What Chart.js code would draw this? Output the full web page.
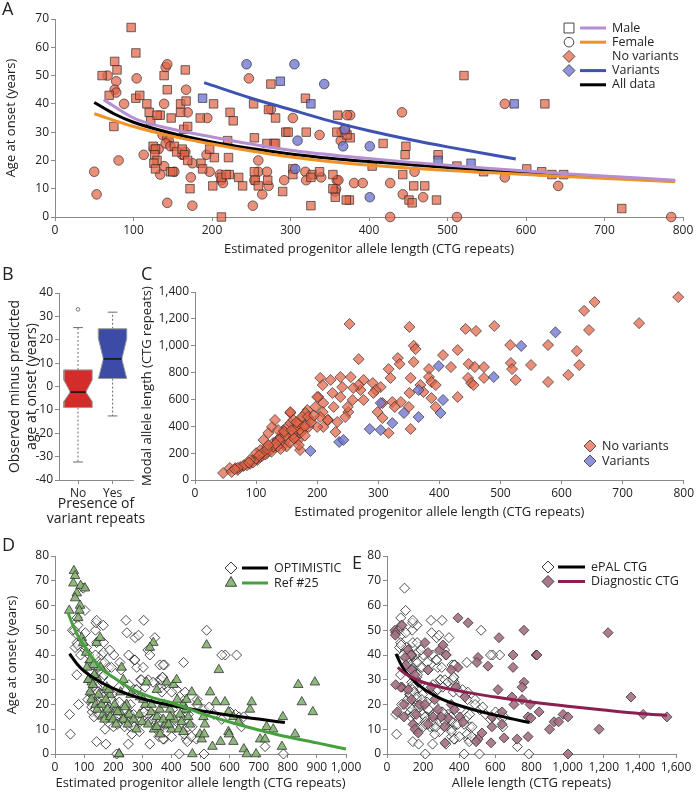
<!DOCTYPE html>
<html lang="en">
<head>
<meta charset="UTF-8">
<title>Age at onset and CTG repeat length</title>
<script src="https://cdn.jsdelivr.net/npm/chart.js"></script>
<style>
  body { margin: 0; background: #fff; font-family: 'Open Sans', sans-serif; }
  #fig { position: relative; width: 696px; height: 793px; overflow: hidden; }
  canvas { position: absolute; }
  .tag { position: absolute; font-size: 18px; line-height: 18px; color: #222; }
</style>
</head>
<body>
<div id="fig">
  <canvas id="chartA" width="696" height="257" style="left:0;top:0"></canvas>
  <canvas id="chartC" width="559" height="240" style="left:137px;top:280px"></canvas>
  <canvas id="chartB" width="150" height="247" style="left:0;top:280px"></canvas>
  <canvas id="chartD" width="372" height="256" style="left:0;top:535px"></canvas>
  <canvas id="chartE" width="344" height="256" style="left:352px;top:535px"></canvas>
  <div class="tag" style="left:2px;top:-1px">A</div>
  <div class="tag" style="left:2px;top:264px">B</div>
  <div class="tag" style="left:141px;top:264px">C</div>
  <div class="tag" style="left:2px;top:535px">D</div>
  <div class="tag" style="left:352px;top:553px">E</div>
</div>
<script>
// ---- panel A : estimated progenitor allele length vs age at onset ----
const maleNoVar = [[97,67],[103,58],[76,55],[79,52],[60,50],[69,43],[75,32],[103,42],[108,43],[117,40],[120,37],[122,34],[134,36],[139,50],[143,45],[130,36],[148,35],[160,37],[160,40],[166,52],[167,41],[164,31],[169,32],[185,35],[202,40],[223,37],[227,34],
  [275,47],[253,40],[272,38],[281,35],[294,30],[297,30],[319,42],[320,30],[254,28],[270,26],[279,26],[303,17],[326,4],[328,15],[326,14],[337,16],[354,15],[360,36],[359,30],[357,7],[354,10],[375,6],[376,28],
  [125,25],[128,24],[127,22],[130,20],[126,19],[128,17],[147,16],[150,16],[152,25],[155,23],[162,24],[165,22],[169,20],[172,10],[186,19],[188,17],[197,24],[203,21],[201,11],[212,0],[220,27],[221,21],[222,15],[212,14],[218,15],[234,14],[239,11],[254,16],[255,13],[271,13],[259,11],[281,26],[303,15],[290,9],
  [372,29],[370,31],[371,6],[404,18],[418,26],[443,15],[446,22],[447,25],[451,6],[455,5],[457,11],[471,11],[486,6],[488,22],[512,18],[521,50],[546,16],[601,17],[620,16],[624,40],[633,15],[648,15],[722,3]];
const maleVar = [[188,42],[287,48],[326,40],[488,20],[530,19],[585,40]];
const femaleNoVar = [[67,50],[78,48],[76,45],[78,44],[88,40],[81,20],[104,49],[50,16],[53,8],[113,22],[126,24],[132,24],[139,40],[137,29],[143,28],[145,27],[141,26],[147,25],[139,18],[134,15],[143,5],[152,16],[162,22],[166,23],[169,37],[167,45],[175,19],[173,14],[175,4],[193,22],[197,16],[194,35],[210,15],[212,13],[214,12],[247,49],[252,4],[254,13],[259,16],[259,20],[264,8],[270,16],[272,11],[275,38],[303,35],[292,13],[337,29],[339,14],[358,10],[357,9],[359,13],[361,13],[364,27],[365,30],[376,36],[319,16],[320,13],[141,53],[143,54],
  [372,36],[381,12],[392,12],[427,0],[427,12],[442,37],[443,8],[458,16],[469,7],[512,0],[573,40],[573,14],[641,11],[785,0]];
const femaleVar = [[244,54],[305,54],[343,47],[309,27],[306,17],[367,25],[369,31],[401,25],[401,7]];

// fitted curves
const curveAll = [[50,40.5],[75,36.5],[100,33.5],[150,29.5],[200,26.5],[250,24.2],[300,22.3],[350,20.8],[400,19.6],[500,17.5],[600,15.7],[700,14.1],[790,12.7]];
const curveMale = [[62,41.5],[100,35],[150,31],[200,28.3],[250,25.8],[300,23.6],[372,21.4],[450,19.4],[550,17.2],[650,15.3],[790,13]];
const curveFemale = [[50,36.5],[100,32],[150,28.5],[200,25.8],[250,23.3],[300,21.2],[372,19],[450,17.3],[550,15.7],[650,14.3],[790,12.5]];
const curveVar = [[190,47.5],[250,42],[300,38],[350,34],[400,30.5],[450,27.5],[500,24.8],[587,20.5]];

// ---- panel B : observed minus predicted age at onset ----
const boxCats = ['No', 'Yes'];
const boxNo = [-32.3, -9, -2.4, 7.1, 25.2];     // min, q1, median, q3, max
const notchNo = [-6.4, 2.8];
const outliersNo = [33];
const boxYes = [-12.6, 3.4, 11.8, 24.7, 31.8];
const notchYes = [3.4, 20.4];

// ---- panel C : modal allele length vs estimated progenitor allele length ----
const modalNoVar = [[791,1362],[654,1325],[637,1260],[727,1168],[645,1117],[253,1162],[351,1140],[490,1147],[443,1125],[460,1110],[358,1000],[361,975],[516,1005],[578,1005],[625,961],[268,900],[430,968],[406,930],[332,908],[335,864],[317,826],[358,879],[383,826],[419,841],[448,864],[458,841],[473,841],[517,871],[519,826],[550,856],[611,782],[578,730],[629,856],[525,745],[473,760],[447,760],[452,722],[456,707],[430,618],[383,767],[387,730],[394,707],[369,707],[374,655],[387,610],[394,544],[353,380],[317,350],[353,760],[351,648],[350,544],[320,760],[323,581],[327,544],[337,581],[304,692],[307,573],[299,506],[307,462],[291,722],[296,670],[292,648],[276,745],[271,670],[276,596],[268,707],[255,767],[259,685],[258,596],[251,506],[238,767],[241,692],[238,618],[233,432],[246,469],[250,544],[222,745],[225,648],[227,544],[230,357],[218,447],[205,760],[209,707],[202,618],[210,573],[209,506],[217,447],[210,395],[200,618],[197,544],[205,469],[200,395],[184,521],[189,447],[186,395],
  [46,52],[57,89],[66,89],[74,97],[79,104],[94,149],[102,149],[107,171],[118,201],[123,223],[118,246],[128,276],[135,298],[140,320],[143,350],[145,372],[151,395],[156,424],[156,499],[161,447],[167,395],[159,350],[164,320],[169,298],[172,350],[177,395],[172,447],[181,499],[107,223],[112,298],[120,350],[126,395],[131,447],[136,372],[172,223],[156,506],
  [60,60],[70,75],[85,110],[90,120],[95,130],[110,180],[115,190],[130,240],[140,280],[145,260],[150,300],[160,340],[165,380],[170,420],[175,360],[180,400],[150,250],[140,230],[125,210],[135,250],[110,200],[100,160],[90,150],[80,110],[70,90],[65,80],[148,330],[155,280],[162,310],[138,300],[128,250],[118,230],[132,270],[146,360],[158,370],[166,430],[175,470],[185,470],[190,430],[195,480],[180,330],[170,260],[120,260],[100,200],[105,185],[88,130]];
const modalVar = [[590,1100],[534,998],[399,849],[489,767],[366,670],[406,596],[402,499],[366,469],[342,499],[323,424],[304,573],[304,372],[286,380],[236,283],[243,298],[189,216]];

// ---- panel D : Ref #25 cohort ----
const ref25 = [[65,74],[69,72],[63,69],[88,68],[103,67],[75,65],[69,63],[86,60],[49,58],[84,58],[80,55],[92,47],[97,45],[107,41],[120,38],[132,36],[143,45],[155,47],[115,30],[126,29],[143,31],[157,35],[178,27],[189,24],[212,18],[223,17],[229,35],[235,30],[246,20],[221,0],[220,0],
  [110,35],[115,30],[120,25],[125,22],[130,28],[135,32],[140,20],[145,18],[150,24],[160,20],[165,16],[170,14],[175,22],[180,18],[185,26],[190,15],[200,14],[205,20],[210,12],[215,17],[225,25],[235,14],[240,19],[250,12],[255,16],[260,24],[270,14],[280,10],[290,16],[300,13],[310,20],[320,12],[330,17],[340,10],[350,15],[360,18],[375,20],[380,12],[395,18],[400,10],[410,14],[420,22],[425,10],[440,20],[450,18],
  [338,45],[326,43],[315,29],[332,20],[292,23],[303,22],[350,26],[384,29],[407,28],[418,30],[350,11],[361,8],[372,14],[390,12],[395,15],[430,16],[435,13],[441,9],[458,15],[464,12],[452,22],[470,25],[510,15],[515,12],[498,8],[504,6],
  [521,44],[563,34],[533,25],[490,21],[553,21],[584,21],[596,17],[613,15],[630,13],[670,18],[676,21],[596,9],[472,0],[541,3],[569,5],[598,8],[613,5],[649,2],[659,0],[691,0],[705,6],[722,6],[727,11],[750,10],[780,3],[783,15],[825,8],[836,28],[848,21],[886,17],[893,29],[513,8]];
const curveRef25 = [[45,57],[60,52.5],[80,47.5],[110,42],[155,35],[200,31],[268,26],[330,23],[406,20.5],[500,16.5],[612,12.5],[700,9.7],[784,7.3],[900,4.5],[1000,2]];

// ---- panel E : diagnostic allele length ----
const diagCTG = [[393,55],[449,53],[620,47],[758,50],[1224,49],[825,40],[830,40],[698,40],[698,35],[758,29],[748,27],[615,26],[692,23],[703,20],[748,22],[792,20],[781,15],[797,14.5],[842,17],[925,13],[950,13],[975,16],[1002,15],[1174,10],[1351,23],[1418,16],[1550,15],[1002,0],[504,39],[559,35.5],[498,37],[393,35],[382,27],[432,23],[404,15],[421,13],[338,14.5],[321,4.5],[526,8.5],[504,6],[493,5],[576,4.5],[648,6.5],[720,6],[781,7],[581,11],[637,12],[900,10],[637,17],[581,15],
  [44,50],[48,49],[46,48],[83,52],[116,42],[133,40],[100,39],[94,15],[83,27],[105,36],[138,34],[155,32],[173,29],[210,45],[227,41],[227,34],[245,27],[264,22],[282,18],[300,15],[319,11],[291,42],[310,44],[328,40],[356,34],[181,20],[162,16],[144,12],[155,10],[173,8.5],[210,20],[136,22],[118,26],[76,27],[48,28],[94,20],[57,17],[227,12],[254,15],[356,20],[373,18]];
const curveDiag = [[60,35],[100,32.5],[150,30.5],[200,29],[300,27],[400,25.5],[500,24.2],[600,23],[800,21],[1000,19.3],[1200,17.8],[1400,16.4],[1550,15.6]];

// ---------------------------------------------------------------------------
Chart.defaults.font.family = "'Open Sans', sans-serif";
Chart.defaults.color = '#222';
Chart.defaults.animation = false;

const SALMON = 'rgba(226,100,70,0.72)';
const LILAC = 'rgba(110,118,210,0.78)';
const EDGE = 'rgba(50,40,40,0.85)';
const AXIS = '#8a8a8a';

const toXY = arr => arr.map(([x, y]) => ({ x, y }));
const allAges = maleNoVar.concat(maleVar, femaleNoVar, femaleVar);

function axis(o) {
  const a = {
    type: 'linear', min: o.min, max: o.max,
    ticks: { stepSize: o.step, font: { size: 12 }, color: '#222', padding: 2,
      maxRotation: 0, minRotation: 0, autoSkip: false },
    grid: { drawOnChartArea: false, drawTicks: true, tickLength: 4, color: AXIS },
    border: { color: AXIS },
    title: { display: false },
    afterFit: s => {
      if (s.isHorizontal()) s.height = o.size; else s.width = o.size;
    }
  };
  if (o.title) {
    a.title = { display: true, text: o.title, color: '#222',
      font: { size: o.fs || 13, lineHeight: o.lh || 1.2 }, padding: o.tpad || 0 };
  }
  if (o.labels) {
    a.ticks.callback = v => o.labels[v - 1] || '';
    a.afterBuildTicks = s => { s.ticks = o.labels.map((_, i) => ({ value: i + 1 })); };
  }
  return a;
}

function dots(data, style, r, fill, stroke, order) {
  return { data: toXY(data), pointStyle: style, pointRadius: r, pointHoverRadius: r,
    pointBackgroundColor: fill, pointBorderColor: stroke, pointBorderWidth: 0.8,
    showLine: false, clip: false, order: order };
}

function curve(data, color, width, order) {
  return { data: toXY(data), showLine: true, borderColor: color, borderWidth: width,
    pointRadius: 0, tension: 0.4, cubicInterpolationMode: 'monotone', fill: false,
    clip: false, order: order };
}

function marker(ctx, style, x, y, r, fill, stroke) {
  ctx.beginPath();
  if (style === 'circle') ctx.arc(x, y, r, 0, Math.PI * 2);
  else if (style === 'rect') { const h = r * Math.SQRT1_2; ctx.rect(x - h, y - h, 2 * h, 2 * h); }
  else if (style === 'rectRot') { ctx.moveTo(x, y - r); ctx.lineTo(x + r, y); ctx.lineTo(x, y + r); ctx.lineTo(x - r, y); ctx.closePath(); }
  else if (style === 'triangle') { ctx.moveTo(x, y - r); ctx.lineTo(x + r * 0.87, y + r * 0.5); ctx.lineTo(x - r * 0.87, y + r * 0.5); ctx.closePath(); }
  ctx.fillStyle = fill; ctx.fill();
  ctx.strokeStyle = stroke; ctx.lineWidth = 0.9; ctx.stroke();
}

// legend drawn inside the plot, symbol + line + text per row
function legendPlugin(rows, lay) {
  return {
    id: 'keyRows',
    afterDraw(chart) {
      const ctx = chart.ctx;
      ctx.save();
      rows.forEach((row, i) => {
        const y = lay.y0 + i * lay.dy;
        if (row.line) {
          ctx.strokeStyle = row.line; ctx.lineWidth = 3;
          ctx.beginPath(); ctx.moveTo(lay.l1, y); ctx.lineTo(lay.l2, y); ctx.stroke();
        }
        if (row.style) marker(ctx, row.style, lay.mx, y, row.r, row.fill, row.stroke);
        ctx.fillStyle = '#222';
        ctx.font = "12.5px 'Open Sans', sans-serif";
        ctx.textBaseline = 'middle';
        ctx.fillText(row.text, lay.tx, y);
      });
      ctx.restore();
    }
  };
}

// free text lines centred under an axis (wider than the axis itself)
function captionPlugin(lines, cx, y0, dy, size) {
  return {
    id: 'caption',
    afterDraw(chart) {
      const ctx = chart.ctx;
      ctx.save();
      ctx.fillStyle = '#222';
      ctx.font = size + "px 'Open Sans', sans-serif";
      ctx.textAlign = 'center';
      ctx.textBaseline = 'middle';
      lines.forEach((t, i) => ctx.fillText(t, cx, y0 + i * dy));
      ctx.restore();
    }
  };
}

function baseOptions(pad, scales) {
  return {
    responsive: false, animation: false,
    layout: { padding: pad },
    plugins: { legend: { display: false }, tooltip: { enabled: false } },
    scales: scales
  };
}

// ---- A ----
new Chart(document.getElementById('chartA'), {
  type: 'scatter',
  data: { datasets: [
    curve(curveMale, '#b58fd2', 3, 0),
    curve(curveFemale, '#ef9228', 3, 0),
    curve(curveVar, '#3d52b1', 3, 0),
    curve(curveAll, '#000', 3, 0),
    dots(maleVar, 'rect', 6, LILAC, EDGE, 1),
    dots(femaleVar, 'circle', 4.8, LILAC, EDGE, 1),
    dots(maleNoVar, 'rect', 6, SALMON, EDGE, 2),
    dots(femaleNoVar, 'circle', 4.8, SALMON, EDGE, 2)
  ] },
  options: baseOptions({ left: 0, top: 19, right: 13, bottom: 0 }, {
    x: axis({ min: 0, max: 800, step: 100, size: 40, title: 'Estimated progenitor allele length (CTG repeats)' }),
    y: axis({ min: 0, max: 70, step: 10, size: 55, title: 'Age at onset (years)', tpad: { top: 3, bottom: 0 } })
  }),
  plugins: [legendPlugin([
    { text: 'Male', line: '#b58fd2', style: 'rect', r: 7, fill: '#fff', stroke: '#333' },
    { text: 'Female', line: '#ef9228', style: 'circle', r: 4.8, fill: '#fff', stroke: '#333' },
    { text: 'No variants', style: 'rectRot', r: 6, fill: SALMON, stroke: EDGE },
    { text: 'Variants', line: '#3d52b1', style: 'rectRot', r: 6, fill: LILAC, stroke: EDGE },
    { text: 'All data', line: '#000' }
  ], { y0: 28, dy: 14.2, mx: 569, l1: 580, l2: 606, tx: 612 })]
});

// ---- B ----
function notchedBox(c, s, notch, w, nw) {
  const [, q1, med, q3] = s;
  const lo = Math.max(notch[0], q1), hi = Math.min(notch[1], q3);
  return [[c - w, q1], [c + w, q1], [c + w, lo], [c + nw, med], [c + w, hi], [c + w, q3],
          [c - w, q3], [c - w, hi], [c - nw, med], [c - w, lo], [c - w, q1]];
}
function boxParts(c, s, notch, color, nwRatio) {
  const w = 0.41, nw = w * nwRatio, cap = 0.14;
  const shape = {
    data: toXY(notchedBox(c, s, notch, w, nw)), showLine: true, fill: 'shape',
    backgroundColor: color, borderColor: '#9a9a9a', borderWidth: 1, pointRadius: 0, tension: 0, order: 1
  };
  const seg = (pts, dash) => ({ data: toXY(pts), showLine: true, borderColor: '#6a6a6a', borderWidth: 1,
    borderDash: dash, pointRadius: 0, tension: 0, fill: false, order: 2 });
  return [
    shape,
    Object.assign(seg([[c - nw, s[2]], [c + nw, s[2]]], []), { borderColor: '#111', borderWidth: 1.5, order: 0 }),
    seg([[c, s[3]], [c, s[4]]], [2, 2]),
    seg([[c, s[1]], [c, s[0]]], [2, 2]),
    seg([[c - cap, s[4]], [c + cap, s[4]]], []),
    seg([[c - cap, s[0]], [c + cap, s[0]]], [])
  ];
}
new Chart(document.getElementById('chartB'), {
  type: 'scatter',
  data: { datasets: [
    ...boxParts(1, boxNo, notchNo, '#d42b2b', 0.55),
    ...boxParts(2, boxYes, notchYes, '#3b4ba6', 0.65),
    dots(outliersNo.map(v => [1, v]), 'circle', 1.8, '#fff', '#555', 0)
  ] },
  options: baseOptions({ left: 0, top: 13, right: 17, bottom: 0 }, {
    x: axis({ min: 0.45, max: 2.59, size: 47, labels: boxCats }),
    y: axis({ min: -40, max: 40, step: 10, size: 59, lh: 1.22, fs: 14,
      title: ['Observed minus predicted', 'age at onset (years)'], tpad: { top: 6, bottom: 0 } })
  }),
  plugins: [captionPlugin(['Presence of', 'variant repeats'], 96, 224, 15.5, 14)]
});

// ---- C ----
new Chart(document.getElementById('chartC'), {
  type: 'scatter',
  data: { datasets: [
    dots(modalVar, 'rectRot', 5.5, LILAC, EDGE, 0),
    dots(modalNoVar, 'rectRot', 5.5, SALMON, EDGE, 1)
  ] },
  options: baseOptions({ left: 0, top: 12, right: 12, bottom: 0 }, {
    x: axis({ min: 0, max: 800, step: 100, size: 40, title: 'Estimated progenitor allele length (CTG repeats)' }),
    y: axis({ min: 0, max: 1400, step: 200, size: 58, title: 'Modal allele length (CTG repeats)', tpad: { top: 2, bottom: 0 } })
  }),
  plugins: [legendPlugin([
    { text: 'No variants', style: 'rectRot', r: 6, fill: SALMON, stroke: EDGE },
    { text: 'Variants', style: 'rectRot', r: 6, fill: LILAC, stroke: EDGE }
  ], { y0: 166, dy: 15, mx: 453, l1: 0, l2: 0, tx: 465 })]
});

// ---- D ----
const OPEN = 'rgba(255,255,255,0.55)';
new Chart(document.getElementById('chartD'), {
  type: 'scatter',
  data: { datasets: [
    curve(curveRef25, '#47a03e', 3, 0),
    curve(curveAll, '#000', 3, 0),
    dots(ref25, 'triangle', 5.5, 'rgba(128,176,108,0.88)', '#333', 1),
    dots(allAges, 'rectRot', 5, OPEN, '#222', 2)
  ] },
  options: baseOptions({ left: 0, top: 21, right: 26, bottom: 0 }, {
    x: axis({ min: 0, max: 1000, step: 100, size: 37, title: 'Estimated progenitor allele length (CTG repeats)' }),
    y: axis({ min: 0, max: 80, step: 10, size: 55, title: 'Age at onset (years)', tpad: { top: 4, bottom: 0 } })
  }),
  plugins: [legendPlugin([
    { text: 'OPTIMISTIC', line: '#000', style: 'rectRot', r: 6, fill: '#fff', stroke: '#222' },
    { text: 'Ref #25', line: '#47a03e', style: 'triangle', r: 6.5, fill: 'rgba(128,176,108,0.9)', stroke: '#333' }
  ], { y0: 33, dy: 15, mx: 231, l1: 242, l2: 268, tx: 274 })]
});

// ---- E ----
new Chart(document.getElementById('chartE'), {
  type: 'scatter',
  data: { datasets: [
    curve(curveDiag, '#8c1f50', 3, 0),
    curve(curveAll, '#000', 3, 0),
    dots(diagCTG, 'rectRot', 5, 'rgba(165,112,132,0.9)', '#333', 1),
    dots(allAges, 'rectRot', 5, OPEN, '#222', 2)
  ] },
  options: baseOptions({ left: 0, top: 21, right: 20, bottom: 0 }, {
    x: axis({ min: 0, max: 1600, step: 200, size: 37, title: 'Allele length (CTG repeats)' }),
    y: axis({ min: 0, max: 80, step: 10, size: 35 })
  }),
  plugins: [legendPlugin([
    { text: 'ePAL CTG', line: '#000', style: 'rectRot', r: 6, fill: '#fff', stroke: '#222' },
    { text: 'Diagnostic CTG', line: '#8c1f50', style: 'rectRot', r: 6, fill: 'rgba(165,112,132,0.95)', stroke: '#333' }
  ], { y0: 32, dy: 14.5, mx: 196, l1: 206, l2: 233, tx: 239 })]
});
</script>
</body>
</html>
